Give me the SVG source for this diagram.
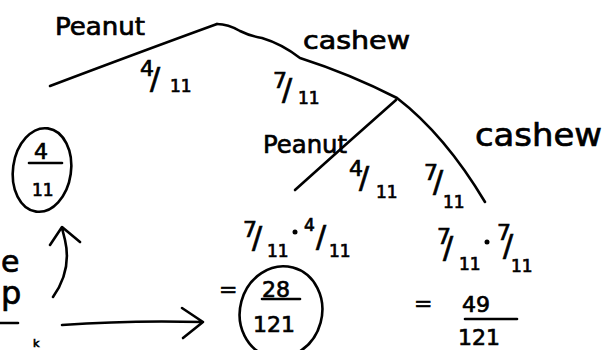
<svg xmlns="http://www.w3.org/2000/svg" width="604" height="350" viewBox="0 0 604 350">
<style>
.ln{fill:none;stroke:#000;stroke-width:2.6;stroke-linecap:round;stroke-linejoin:round}
.t{font-family:"DejaVu Sans","Liberation Sans",sans-serif;fill:#000;stroke:#000;stroke-width:0.7}
.w{font-size:24px}
.n{font-size:22px}
.s{font-size:17px}
.sl{font-size:30px}
</style>
<rect width="604" height="350" fill="#fff"/>
<g id="connectors">
<path class="ln" d="M50,86 Q140,52 217,24"/>
<path class="ln" d="M217,24 Q228,24 240,31 Q250,36 262,38 Q282,44 300,58 Q350,74 397,98 Q445,135 485,202"/>
<path class="ln" d="M396,100 Q345,145 295,190"/>
<path class="ln" d="M53,297 Q72,270 65,240 L62,228 M50,245 L62,227 L80,242"/>
<path class="ln" d="M62,325 Q130,320 203,322 M182,308 L203,322 L183,338"/>
</g>
<g id="peanut1"><text class="t w" x="55" y="35" textLength="90" lengthAdjust="spacingAndGlyphs">Peanut</text></g>
<g id="cashew1"><text class="t w" x="303" y="49" textLength="107" lengthAdjust="spacingAndGlyphs">cashew</text></g>
<g id="frac1"><text class="t n" x="140" y="76">4</text><text class="t sl" x="150" y="89">/</text><text class="t s" x="170" y="92">11</text></g>
<g id="frac2"><text class="t n" x="273" y="88">7</text><text class="t sl" x="282" y="100">/</text><text class="t s" x="298" y="104">11</text></g>
<g id="peanut2"><text class="t" font-size="25" x="263" y="153" textLength="84" lengthAdjust="spacingAndGlyphs">Peanut</text></g>
<g id="frac3"><text class="t n" x="349" y="176">4</text><text class="t sl" x="359" y="188">/</text><text class="t s" x="376" y="198">11</text></g>
<g id="frac4"><text class="t n" x="424" y="180">7</text><text class="t sl" x="433" y="192">/</text><text class="t s" x="443" y="208">11</text></g>
<g id="cashew2"><text class="t" font-size="32" x="475" y="146" textLength="127" lengthAdjust="spacingAndGlyphs">cashew</text></g>
<g id="result0">
<ellipse class="ln" cx="42" cy="170" rx="29" ry="42" transform="rotate(8 42 170)"/>
<text class="t n" x="34" y="159">4</text>
<path class="ln" d="M29,163 L62,163"/>
<text class="t s" x="32" y="196">11</text>
</g>
<g id="prod1">
<text class="t n" x="243" y="237">7</text><text class="t sl" x="252" y="248">/</text><text class="t s" x="267" y="257">11</text>
<circle cx="295" cy="232" r="2.5"/>
<text class="t s" x="304" y="231">4</text><text class="t sl" x="316" y="247">/</text><text class="t s" x="329" y="257">11</text>
</g>
<g id="result1">
<text class="t n" x="219" y="297">=</text>
<ellipse class="ln" cx="281" cy="312" rx="41" ry="46" transform="rotate(15 281 312)"/>
<text class="t n" x="262" y="297">28</text>
<path class="ln" d="M262,299 L300,299"/>
<text class="t n" x="253" y="332">121</text>
</g>
<g id="prod2">
<text class="t n" x="437" y="244">7</text><text class="t sl" x="443" y="258">/</text><text class="t s" x="459" y="270">11</text>
<circle cx="487" cy="242" r="2.5"/>
<text class="t n" x="497" y="240">7</text><text class="t sl" x="503" y="256">/</text><text class="t s" x="511" y="272">11</text>
</g>
<g id="result2">
<text class="t n" x="414" y="311">=</text>
<text class="t n" x="462" y="312">49</text>
<path class="ln" d="M465,319 L517,319"/>
<text class="t n" x="458" y="345">121</text>
</g>
<g id="fragments">
<text class="t" font-size="30" x="1" y="272">e</text>
<text class="t" font-size="32" x="1" y="304">p</text>
<path class="ln" d="M0,323 L18,323"/>
<text class="t" font-size="11" x="33" y="347">k</text>
</g>
</svg>
